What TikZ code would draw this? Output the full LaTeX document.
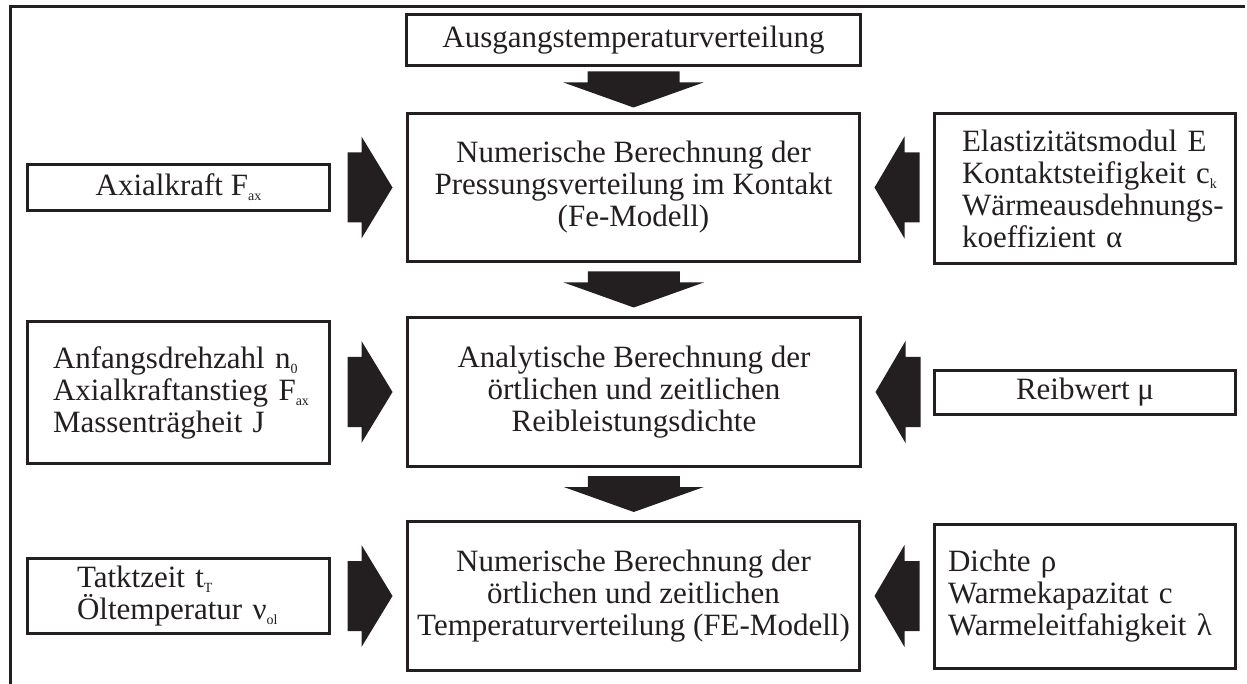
\documentclass[tikz,border=0pt]{standalone}
\usepackage{fontspec}
\setmainfont{Liberation Serif}
\usetikzlibrary{calc}
\definecolor{ink}{RGB}{35,31,32}
\newcommand\lowidx[1]{\raisebox{-5pt}{\fontsize{14}{14}\selectfont #1}}
% block arrow pointing down, centred in the gap between two nodes
\newcommand\dnarrow[2]{%
  \fill[ink] let \p1=($(#1.south)!0.5!(#2.north)$) in
    (\x1-46pt,\y1+18pt) -- (\x1+46pt,\y1+18pt) -- (\x1+46pt,\y1+7pt) --
    (\x1+70pt,\y1+7pt) -- (\x1,\y1-18pt) -- (\x1-70pt,\y1+7pt) --
    (\x1-46pt,\y1+7pt) -- cycle;}
% block arrow pointing right, from a left input box to a centre box
\newcommand\rtarrow[2]{%
  \fill[ink] let \p1=(#1.east), \p2=(#2.west) in
    (\x2-58.5pt,\y2+35pt) -- (\x2-44.5pt,\y2+35pt) -- (\x2-44.5pt,\y2+51pt) --
    (\x2-13.5pt,\y2) -- (\x2-44.5pt,\y2-51pt) -- (\x2-44.5pt,\y2-35pt) --
    (\x2-58.5pt,\y2-35pt) -- cycle;}
% block arrow pointing left, from a right input box to a centre box
\newcommand\lfarrow[2]{%
  \fill[ink] let \p1=(#1.west), \p2=(#2.east) in
    (\x2+58.5pt,\y2+35pt) -- (\x2+43.5pt,\y2+35pt) -- (\x2+43.5pt,\y2+51pt) --
    (\x2+13.5pt,\y2) -- (\x2+43.5pt,\y2-51pt) -- (\x2+43.5pt,\y2-35pt) --
    (\x2+58.5pt,\y2-35pt) -- cycle;}
\begin{document}
\begin{tikzpicture}[x=1pt,y=-1pt,
  box/.style={draw=ink, line width=3pt, rectangle, inner sep=0pt, align=center,
    font=\fontsize{31}{32}\selectfont, text=ink},
  lbox/.style={box, align=left, inner ysep=0pt}]
\useasboundingbox (0,0) rectangle (1247,684);
\draw[ink, line width=3pt] (10,684) -- (10,7) -- (1245,7);

\node[box, minimum width=454pt, minimum height=51pt] (top) at (633.5,40) {Ausgangstemperaturverteilung};
\node[box, minimum width=452pt, minimum height=148pt] (c1) at (633.5,187.5)
  {Numerische Berechnung der\\Pressungsverteilung im Kontakt\\(Fe-Modell)};
\node[box, minimum width=453pt, minimum height=149pt] (c2) at (634,392)
  {Analytische Berechnung der\\örtlichen und zeitlichen\\Reibleistungsdichte};
\node[box, minimum width=452pt, minimum height=149pt] (c3) at (633.5,596)
  {Numerische Berechnung der\\örtlichen und zeitlichen\\Temperaturverteilung (FE-Modell)};

\node[box, minimum width=302pt, minimum height=46pt] (l1) at (178.5,187.5) {Axialkraft F\lowidx{ax}};
\node[lbox, inner xsep=25.5pt, text width=251pt, minimum height=142pt] (l2) at (178.5,392.5)
  {\mbox{Anfangsdrehzahl n\lowidx{0}}\\\mbox{Axialkraftanstieg F\lowidx{ax}}\\\mbox{Massenträgheit J}};
\node[lbox, inner xsep=49.5pt, text width=203pt, minimum height=75pt] (l3) at (178.5,596)
  {\mbox{Tatktzeit t\lowidx{T}}\\\mbox{Öltemperatur ν\lowidx{ol}}};

\node[lbox, inner xsep=27.5pt, text width=246pt, minimum height=150pt] (r1) at (1085,188.5)
  {\mbox{Elastizitätsmodul E}\\\mbox{Kontaktsteifigkeit c\lowidx{k}}\\\mbox{Wärmeausdehnungs-}\\\mbox{koeffizient α}};
\node[box, minimum width=301pt, minimum height=44pt] (r2) at (1085,392.5) {Reibwert μ};
\node[lbox, inner xsep=13.5pt, text width=274pt, minimum height=144pt] (r3) at (1085,596.5)
  {\mbox{Dichte ρ}\\\mbox{Warmekapazitat c}\\\mbox{Warmeleitfahigkeit λ}};

\dnarrow{top}{c1}
\dnarrow{c1}{c2}
\dnarrow{c2}{c3}
\rtarrow{l1}{c1}
\rtarrow{l2}{c2}
\rtarrow{l3}{c3}
\lfarrow{r1}{c1}
\lfarrow{r2}{c2}
\lfarrow{r3}{c3}
\end{tikzpicture}
\end{document}
